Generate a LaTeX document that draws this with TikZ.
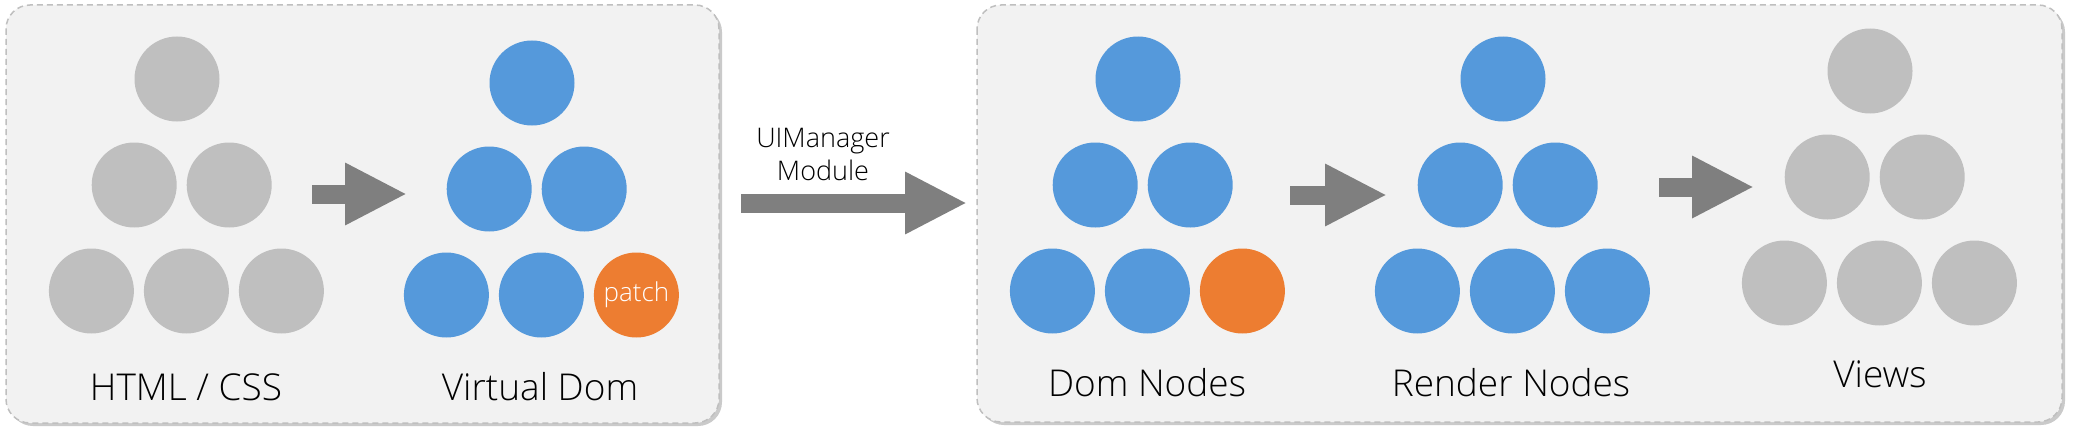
\documentclass[tikz,border=0pt]{standalone}
\usepackage{fontspec}
\setmainfont{Open Sans}[UprightFont={* Light}]
\usepackage{xcolor}
\usetikzlibrary{arrows.meta,
	shadows}
\definecolor{panelfill}{HTML}{F2F2F2}
\definecolor{bordergrey}{HTML}{BFBFBF}
\definecolor{dotgrey}{HTML}{BFBFBF}
\definecolor{dotblue}{HTML}{5599DB}
\definecolor{dotorange}{HTML}{ED7D31}
\definecolor{arrowgrey}{HTML}{7F7F7F}

\begin{document}
\begin{tikzpicture}[x=1pt, y=-1pt,
	dot/.style={circle, minimum size=85pt, inner sep=0pt},
	grey dot/.style={dot, fill=dotgrey},
	blue dot/.style={dot, fill=dotblue},
	orange dot/.style={dot, fill=dotorange},
	patch dot/.style={orange dot, label={[text=white, inner sep=0pt, font=\fontsize{26}{26}\selectfont]center:patch}},
	panel/.style={draw=bordergrey, dash pattern=on 6pt off 4pt, line width=1.5pt, fill=panelfill, rounded corners=24pt,
		drop shadow={shadow xshift=3pt, shadow yshift=-3pt, opacity=0.35, fill=black!60}},
	fat arrow/.style={draw=arrowgrey, line width=19pt, -{Triangle[length=62pt, width=58pt]}},
	caption/.style={anchor=base, font=\fontsize{37}{44}\selectfont}]
	\useasboundingbox (0,0) rectangle (2074,436);
	% the two panels
	\draw[panel] (6,5) rectangle (719,423);
	\draw[panel] (977,5) rectangle (2062,422);
	% node trees: name / top x / top y / style / style of last node
	\foreach \g/\gx/\gy/\col/\last in {html/177/79/grey dot/grey dot,
		vdom/532/83/blue dot/patch dot,
		dom/1138/79/blue dot/orange dot,
		render/1503/79/blue dot/blue dot,
		views/1870/71/grey dot/grey dot} {
		\foreach \r in {0,1,2} {
			\foreach \k in {0,...,\r} {
				\ifnum\numexpr10*\r+\k\relax=22 \def\sty{\last}\else\def\sty{\col}\fi
				\node[\sty] (\g-\r-\k) at ({\gx+4.7*\r+95*(\k-\r/2)}, {\gy+106*\r}) {};
			}
		}
	}
	% captions
	\node[caption] (lhtml) at (186,400) {HTML / CSS};
	\node[caption] (lvdom) at (540,400) {Virtual Dom};
	\node[caption] (ldom) at (1147,396) {Dom Nodes};
	\node[caption] (lrender) at (1511,396) {Render Nodes};
	\node[caption] (lviews) at (1880,387) {Views};
	\node[align=center, inner sep=0pt, font=\fontsize{27}{33}\selectfont] (uim) at (823,154) {UIManager\\Module};
	% arrows
	\coordinate (a1s) at (312,194);
	\coordinate (a1e) at (407,194);
	\coordinate (a2s) at (741,203);
	\coordinate (a2e) at (967,203);
	\coordinate (a3s) at (1290,195);
	\coordinate (a3e) at (1387,195);
	\coordinate (a4s) at (1659,187);
	\coordinate (a4e) at (1754,187);
	\draw[fat arrow] (a1s) -- (a1e);
	\draw[fat arrow] (a2s) -- (a2e);
	\draw[fat arrow] (a3s) -- (a3e);
	\draw[fat arrow] (a4s) -- (a4e);
\end{tikzpicture}
\end{document}
